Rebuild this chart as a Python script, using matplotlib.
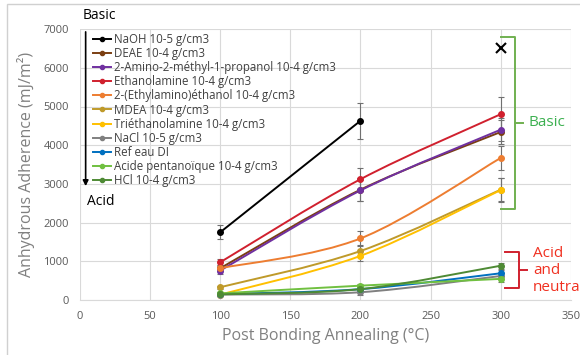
import matplotlib.pyplot as plt
from matplotlib.path import Path
from matplotlib.patches import PathPatch, FancyArrowPatch
import numpy as np

plt.rcParams['font.family'] = ['Open Sans', 'DejaVu Sans']

temps = [100, 200, 300]

names = [
    "NaOH 10-5 g/cm3",
    "DEAE 10-4 g/cm3",
    "2-Amino-2-méthyl-1-propanol 10-4 g/cm3",
    "Ethanolamine 10-4 g/cm3",
    "2-(Ethylamino)éthanol 10-4 g/cm3",
    "MDEA 10-4 g/cm3",
    "Triéthanolamine 10-4 g/cm3",
    "NaCl 10-5 g/cm3",
    "Ref eau DI",
    "Acide pentanoïque 10-4 g/cm3",
    "HCl 10-4 g/cm3",
]
values = [
    [1750, 4630, None],
    [820, 2850, 4340],
    [760, 2830, 4400],
    [975, 3120, 4800],
    [820, 1590, 3670],
    [330, 1265, 2850],
    [140, 1140, 2840],
    [140, 200, 620],
    [150, 280, 690],
    [170, 370, 545],
    [145, 280, 885],
]
errors = [
    [180, 460, 0],
    [80, 300, 300],
    [80, 280, 300],
    [80, 300, 450],
    [60, 200, 300],
    [40, 150, 300],
    [30, 120, 300],
    [30, 60, 80],
    [30, 50, 80],
    [30, 50, 80],
    [30, 50, 80],
]
colors = ["#000000", "#7B3F12", "#7030A0", "#D0202E", "#ED7D31", "#BF9A2A",
          "#FFC000", "#808080", "#0070C0", "#70C040", "#4E8A34"]

naoh_300 = 6500  # NaOH at 300 °C: sample broke (marked x)


def smooth_path(xs, ys):
    # Excel-style smoothed line: Catmull-Rom segments as cubic Bezier
    pts = np.column_stack([xs, ys]).astype(float)
    n = len(pts)
    verts = [pts[0]]
    codes = [Path.MOVETO]
    for i in range(n - 1):
        p0 = pts[i - 1] if i > 0 else pts[i]
        p1, p2 = pts[i], pts[i + 1]
        p3 = pts[i + 2] if i + 2 < n else pts[i + 1]
        c1 = p1 + (p2 - p0) / 6
        c2 = p2 - (p3 - p1) / 6
        verts += [c1, c2, p2]
        codes += [Path.CURVE4] * 3
    return Path(verts, codes)


fig = plt.figure(figsize=(5.8, 3.55), dpi=100)
ax = fig.add_axes([0.138, 0.155, 0.846, 0.763])

for name, vals, err, c in zip(names, values, errors, colors):
    xs = [t for t, v in zip(temps, vals) if v is not None]
    ys = [v for v in vals if v is not None]
    es = [e for e, v in zip(err, vals) if v is not None]
    ax.errorbar(xs, ys, yerr=es, fmt='none', ecolor='#707070', elinewidth=0.8,
                capsize=2.5, capthick=0.8, zorder=2)
    if len(xs) > 2:
        ax.add_patch(PathPatch(smooth_path(xs, ys), fill=False, edgecolor=c,
                               lw=1.4, zorder=3))
        ax.plot(xs, ys, ls='none', marker='o', ms=4, color=c, zorder=4)
    else:
        ax.plot(xs, ys, '-o', ms=4, lw=1.4, color=c, zorder=4)

ax.plot([300], [naoh_300], marker='x', ms=7, mew=1.5, color='black', ls='none', zorder=5)

# legend handles
handles = [plt.Line2D([], [], color=c, marker='o', ms=3, lw=1.4) for c in colors]
leg = ax.legend(handles, names, loc='upper left', bbox_to_anchor=(0.012, 1.01),
                frameon=False, fontsize=8.3, handlelength=1.6, handletextpad=0.2,
                labelspacing=0.09, borderaxespad=0.2)
for t in leg.get_texts():
    t.set_color('#404040')

ax.set_xlim(0, 350)
ax.set_ylim(0, 7000)
ax.set_xticks(range(0, 351, 50))
ax.set_yticks(range(0, 7001, 1000))
ax.grid(True, color='#D9D9D9', lw=0.8)
ax.set_axisbelow(True)
for s in ['top', 'right', 'left']:
    ax.spines[s].set_visible(False)
ax.spines['bottom'].set_color('#D9D9D9')
ax.tick_params(length=0, labelsize=8, colors='#595959', pad=8)
ax.set_xlabel("Post Bonding Annealing (°C)", fontsize=11.5, color='#808080', labelpad=4)
ax.set_ylabel("Anhydrous Adherence (mJ/m²)", fontsize=11.5, color='#808080', labelpad=6)

# basic -> acid arrow
ax.add_patch(FancyArrowPatch((4, 7000), (4, 2870), arrowstyle='-|>', mutation_scale=8,
                             color='black', lw=1.2, clip_on=False, zorder=6))
ax.text(2, 7150, "Basic", fontsize=10, color='black', va='bottom', ha='left')
ax.text(5, 2550, "Acid", fontsize=10, color='black', va='center', ha='left')

# brackets
def bracket(y0, y1, xb, xt, color):
    xm = (y0 + y1) / 2
    ax.plot([xb, xt, xt, xb], [y1, y1, y0, y0], color=color, lw=1.4, clip_on=False)
    ax.plot([xt, xt + 6], [xm, xm], color=color, lw=1.4, clip_on=False)

bracket(2350, 6800, 300, 310, '#70B050')
ax.text(320, 4575, "Basic", fontsize=11, color='#3CB050', va='center', ha='left')
bracket(300, 1230, 303, 313, '#D0202E')
ax.text(323, 760, "Acid\nand\nneutral", fontsize=11, color='#F03020', va='center',
        ha='left', linespacing=1.15)

fig.patches.append(plt.Rectangle((0.012, -0.05), 1.1, 1.04, transform=fig.transFigure,
                                 fill=False, edgecolor='#D0D0D0', lw=1))

fig.savefig("out.png", dpi=100)
